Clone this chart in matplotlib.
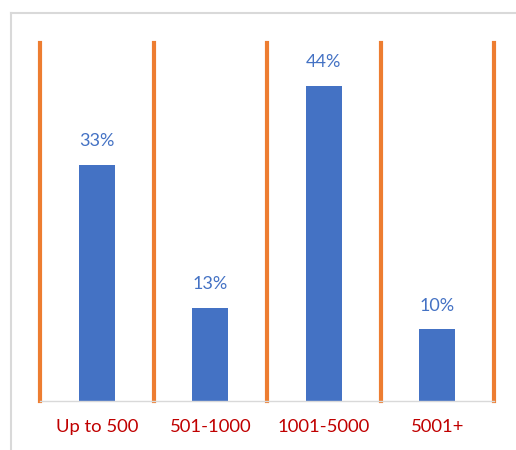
import matplotlib
matplotlib.use("Agg")
import matplotlib.pyplot as plt
from matplotlib.lines import Line2D

categories = ["Up to 500", "501-1000", "1001-5000", "5001+"]
shares = [33, 13, 44, 10]

plt.rcParams['font.family'] = ['Lato', 'DejaVu Sans']

fig = plt.figure(figsize=(5.16, 4.5), dpi=100)
ax = fig.add_axes([40 / 516, 49 / 450, 454 / 516, 358 / 450])

x = range(len(categories))
bars = ax.bar(x, shares, width=0.32, color="#4472C4", zorder=2)
for b, v in zip(bars, shares):
    ax.text(b.get_x() + b.get_width() / 2, v + 2.2, f"{v}%", ha="center", va="bottom",
            color="#4472C4", fontsize=13)

# orange dividers between categories
for xv in [-0.5, 0.5, 1.5, 2.5, 3.5]:
    ax.axvline(xv, color="#ED7D31", lw=3, zorder=1, clip_on=False)

ax.set_xlim(-0.5, 3.5)
ax.set_ylim(0, 50)
ax.set_yticks([])
ax.set_xticks(list(x))
ax.set_xticklabels(categories, color="#C00000", fontsize=13.3)
ax.tick_params(axis="x", length=0, pad=13)
for s in ["top", "left", "right"]:
    ax.spines[s].set_visible(False)
ax.spines["bottom"].set_color("#d9d9d9")
ax.spines["bottom"].set_linewidth(1)
ax.spines["bottom"].set_zorder(3)

# chart area border
fig.add_artist(Line2D([10.5 / 516, 10.5 / 516], [0, 437 / 450], color="#d9d9d9", lw=1.5))
fig.add_artist(Line2D([10.5 / 516, 1], [437 / 450, 437 / 450], color="#d9d9d9", lw=1.5))

fig.savefig("out.png", dpi=100)
